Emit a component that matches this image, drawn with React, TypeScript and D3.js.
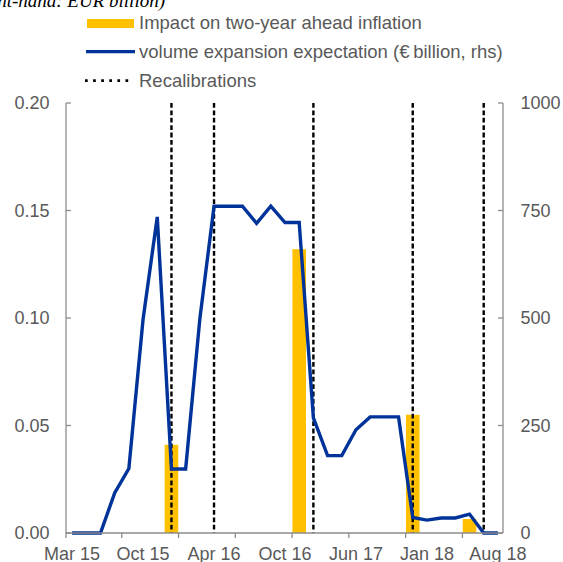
import React from "react";
import * as d3 from "d3";

const categories = [
  "Mar 15", "Apr 15", "Jun 15", "Jul 15", "Sep 15", "Oct 15", "Nov 15", "Dec 15",
  "Jan 16", "Mar 16", "Apr 16", "May 16", "Jun 16", "Jul 16", "Sep 16", "Oct 16",
  "Dec 16", "Jan 17", "Mar 17", "Apr 17", "Jun 17", "Jul 17", "Sep 17", "Oct 17",
  "Dec 17", "Jan 18", "Mar 18", "Apr 18", "Jun 18", "Jul 18", "Aug 18",
];

// Impact on two-year ahead inflation (percentage points, lhs)
const inflationImpact: (number | null)[] = [
  null, null, null, null, null, null, null, 0.041,
  null, null, null, null, null, null, null, null,
  0.132, null, null, null, null, null, null, null,
  0.055, null, null, null, 0.0065, null, null,
];

// volume expansion expectation (EUR billion, rhs)
const volumeExpectation = [
  0, 0, 0, 93, 150, 497, 735, 149,
  149, 498, 760, 760, 760, 720, 760, 722,
  722, 268, 180, 180, 240, 270, 270, 270,
  36, 30, 35, 35, 44, 0, 0,
];

// recalibration dates
const recalibrations = ["Dec 15", "Apr 16", "Jan 17", "Dec 17", "Jul 18"];

const leftTicks = [0, 0.05, 0.1, 0.15, 0.2];
const rightTicks = [0, 250, 500, 750, 1000];

const legendLabels = [
  "Impact on two-year ahead inflation",
  "volume expansion expectation (\u20AC\u2009billion, rhs)",
  "Recalibrations",
];

const W = 563;
const H = 562;
const FONT = "'Liberation Sans', Arial, sans-serif";
const GREY = "#595959";
const AXIS = "#8c8c8c";
const GOLD = "#FFC000";
const BLUE = "#003399";

export default function App() {
  const plotL = 66;
  const plotR = 503;
  const plotT = 103;
  const plotB = 533;

  const x = d3.scaleBand<string>().domain(categories).range([65, 505]).padding(0);
  const bw = x.bandwidth();
  const cx = (c: string) => (x(c) as number) + bw / 2;
  const yL = d3.scaleLinear().domain([0, 0.2]).range([plotB, plotT]);
  const yR = d3.scaleLinear().domain([0, 1000]).range([plotB, plotT]);

  const line = d3
    .line<number>()
    .x((_, i) => cx(categories[i]))
    .y((d) => yR(d));

  const fmtL = d3.format(".2f");

  return (
    <svg
      width={W}
      height={H}
      style={{ position: "absolute", left: 0, top: 0, background: "#fff" }}
      fontFamily={FONT}
    >
      <rect width={W} height={H} fill="#fff" />
      {/* cut-off subtitle */}
      <text
        x={165}
        y={7}
        textAnchor="end"
        fontFamily="'Liberation Serif', 'Times New Roman', serif"
        fontStyle="italic"
        fontSize={19}
        fill="#000"
      >
        (percentage points; right-hand: EUR billion)
      </text>

      {/* legend */}
      <rect x={87} y={19} width={47} height={9} fill={GOLD} />
      <text x={139} y={28.5} fontSize={18.5} fill={GREY}>{legendLabels[0]}</text>
      <line x1={86} x2={135} y1={51.7} y2={51.7} stroke={BLUE} strokeWidth={3.2} />
      <text x={139} y={57.5} fontSize={18.5} fill={GREY}>{legendLabels[1]}</text>
      <line x1={85} x2={132} y1={80.7} y2={80.7} stroke="#000" strokeWidth={2.7} strokeDasharray="2.7 5.4" />
      <text x={139} y={86.5} fontSize={18.5} fill={GREY}>{legendLabels[2]}</text>

      {/* bars */}
      {inflationImpact.map((v, i) =>
        v == null ? null : (
          <rect
            key={"b" + i}
            x={(x(categories[i]) as number) + 0.3}
            width={bw - 0.6}
            y={yL(v)}
            height={yL(0) - yL(v)}
            fill={GOLD}
          />
        )
      )}

      {/* recalibration lines */}
      {recalibrations.map((c) => (
        <line
          key={"r" + c}
          x1={cx(c)}
          x2={cx(c)}
          y1={plotT}
          y2={plotB}
          stroke="#000"
          strokeWidth={2.4}
          strokeDasharray="4.8 2.6"
        />
      ))}

      {/* line */}
      <path
        d={line(volumeExpectation) || ""}
        fill="none"
        stroke={BLUE}
        strokeWidth={3.4}
        strokeLinejoin="miter"
      />

      {/* axes */}
      <g stroke={AXIS} strokeWidth={1.3}>
        <line x1={plotL} x2={plotL} y1={plotT} y2={plotB + 5} />
        <line x1={plotR} x2={plotR} y1={plotT} y2={plotB} />
        <line x1={plotL} x2={plotR} y1={plotB} y2={plotB} />
        {leftTicks.map((t) => (
          <line key={"lt" + t} x1={plotL} x2={plotL + 5} y1={yL(t)} y2={yL(t)} />
        ))}
        {rightTicks.map((t) => (
          <line key={"rt" + t} x1={plotR - 5} x2={plotR} y1={yR(t)} y2={yR(t)} />
        ))}
        {categories.map((c, i) =>
          i % 4 === 0 && i > 0 ? (
            <line key={"xt" + c} x1={x(c)} x2={x(c)} y1={plotB} y2={plotB + 5} />
          ) : null
        )}
      </g>
      {leftTicks.map((t) => (
        <text
          key={"ll" + t}
          x={49.5}
          y={yL(t)}
          dy="0.35em"
          textAnchor="end"
          fontSize={18}
          fill={GREY}
        >
          {fmtL(t)}
        </text>
      ))}
      {rightTicks.map((t) => (
        <text key={"rl" + t} x={520.5} y={yR(t)} dy="0.35em" fontSize={18} fill={GREY}>
          {t}
        </text>
      ))}
      {categories.map((c, i) =>
        i % 5 === 0 ? (
          <text key={"xl" + c} x={cx(c)} y={560} textAnchor="middle" fontSize={18} fill={GREY}>
            {c}
          </text>
        ) : null
      )}
    </svg>
  );
}
